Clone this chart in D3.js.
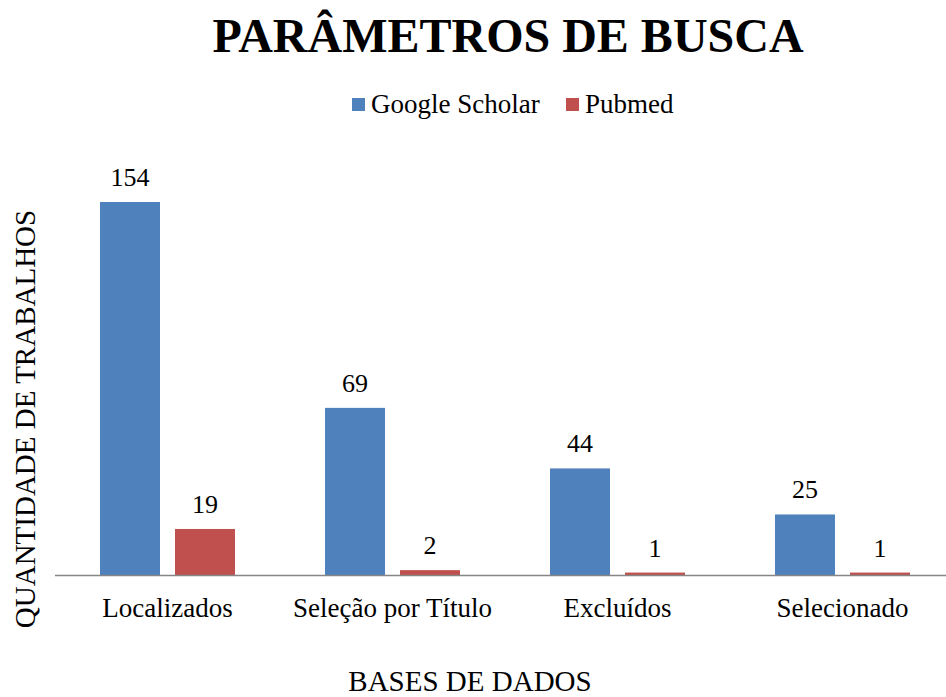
<!DOCTYPE html>
<html>
<head>
<meta charset="utf-8">
<script src="https://cdn.jsdelivr.net/npm/d3@7"></script>
<style>
    body { margin: 0; background: #fff; }
    text { font-family: "Liberation Serif", "Times New Roman", serif; fill: #000; }
</style>
</head>
<body>
<div id="chart"></div>
<script>
// data
let categories = ["Localizados", "Seleção por Título", "Excluídos", "Selecionado"];
let seriesNames = ["Google Scholar", "Pubmed"];
let googleScholar = [154, 69, 44, 25];
let pubmed = [19, 2, 1, 1];
let colors = ["#4F81BD", "#C0504D"];

let width = 946, height = 697;
let margin = {top: 202, right: -9, bottom: 122, left: 55};

let svg = d3.select("#chart").append("svg")
    .attr("width", width)
    .attr("height", height);

let baseY = height - margin.bottom;   // 575

// scales
let x = d3.scaleBand()
    .domain(categories)
    .range([margin.left, width - margin.right])
    .paddingInner(0)
    .paddingOuter(0);

let x1 = d3.scaleBand()
    .domain(seriesNames)
    .range([45, x.bandwidth() - 45])
    .paddingInner(0.2);

let y = d3.scaleLinear()
    .domain([0, 154])
    .range([baseY, margin.top]);

let rows = categories.map((c, i) => ({cat: c, values: [googleScholar[i], pubmed[i]]}));

// bars
let groups = svg.selectAll(".grp")
    .data(rows)
    .enter().append("g")
    .attr("class", "grp")
    .attr("transform", d => `translate(${x(d.cat)},0)`);

groups.selectAll("rect")
    .data(d => d.values.map((v, j) => ({name: seriesNames[j], v: v, j: j})))
    .enter().append("rect")
    .attr("x", d => x1(d.name))
    .attr("y", d => y(d.v))
    .attr("width", x1.bandwidth())
    .attr("height", d => baseY - y(d.v))
    .attr("fill", d => colors[d.j]);

groups.selectAll(".val")
    .data(d => d.values.map((v, j) => ({name: seriesNames[j], v: v})))
    .enter().append("text")
    .attr("class", "val")
    .attr("x", d => x1(d.name) + x1.bandwidth() / 2)
    .attr("y", d => y(d.v) - 16)
    .attr("text-anchor", "middle")
    .style("font-size", "26px")
    .text(d => d.v);

// x axis line
svg.append("line")
    .attr("x1", margin.left)
    .attr("x2", width)
    .attr("y1", baseY + 0.5)
    .attr("y2", baseY + 0.5)
    .attr("stroke", "#868686")
    .attr("stroke-width", 1.5);

// category labels
svg.selectAll(".cat")
    .data(categories)
    .enter().append("text")
    .attr("class", "cat")
    .attr("x", d => x(d) + x.bandwidth() / 2)
    .attr("y", 617)
    .attr("text-anchor", "middle")
    .style("font-size", "27px")
    .text(d => d);

// title
svg.append("text")
    .attr("x", 508)
    .attr("y", 52)
    .attr("text-anchor", "middle")
    .style("font-size", "48px")
    .style("font-weight", "bold")
    .text("PARÂMETROS DE BUSCA");

// axis titles
svg.append("text")
    .attr("x", 470)
    .attr("y", 691)
    .attr("text-anchor", "middle")
    .style("font-size", "29px")
    .text("BASES DE DADOS");

svg.append("text")
    .attr("transform", "translate(35,419) rotate(-90)")
    .attr("text-anchor", "middle")
    .style("font-size", "29px")
    .text("QUANTIDADE DE TRABALHOS");

// legend
let legendX = [352, 566];
let legend = svg.selectAll(".leg")
    .data(seriesNames)
    .enter().append("g")
    .attr("class", "leg")
    .attr("transform", (d, i) => `translate(${legendX[i]},98)`);

legend.append("rect")
    .attr("width", 13)
    .attr("height", 13)
    .attr("fill", (d, i) => colors[i]);

legend.append("text")
    .attr("x", 19)
    .attr("y", 15)
    .style("font-size", "27px")
    .text(d => d);
</script>
</body>
</html>
